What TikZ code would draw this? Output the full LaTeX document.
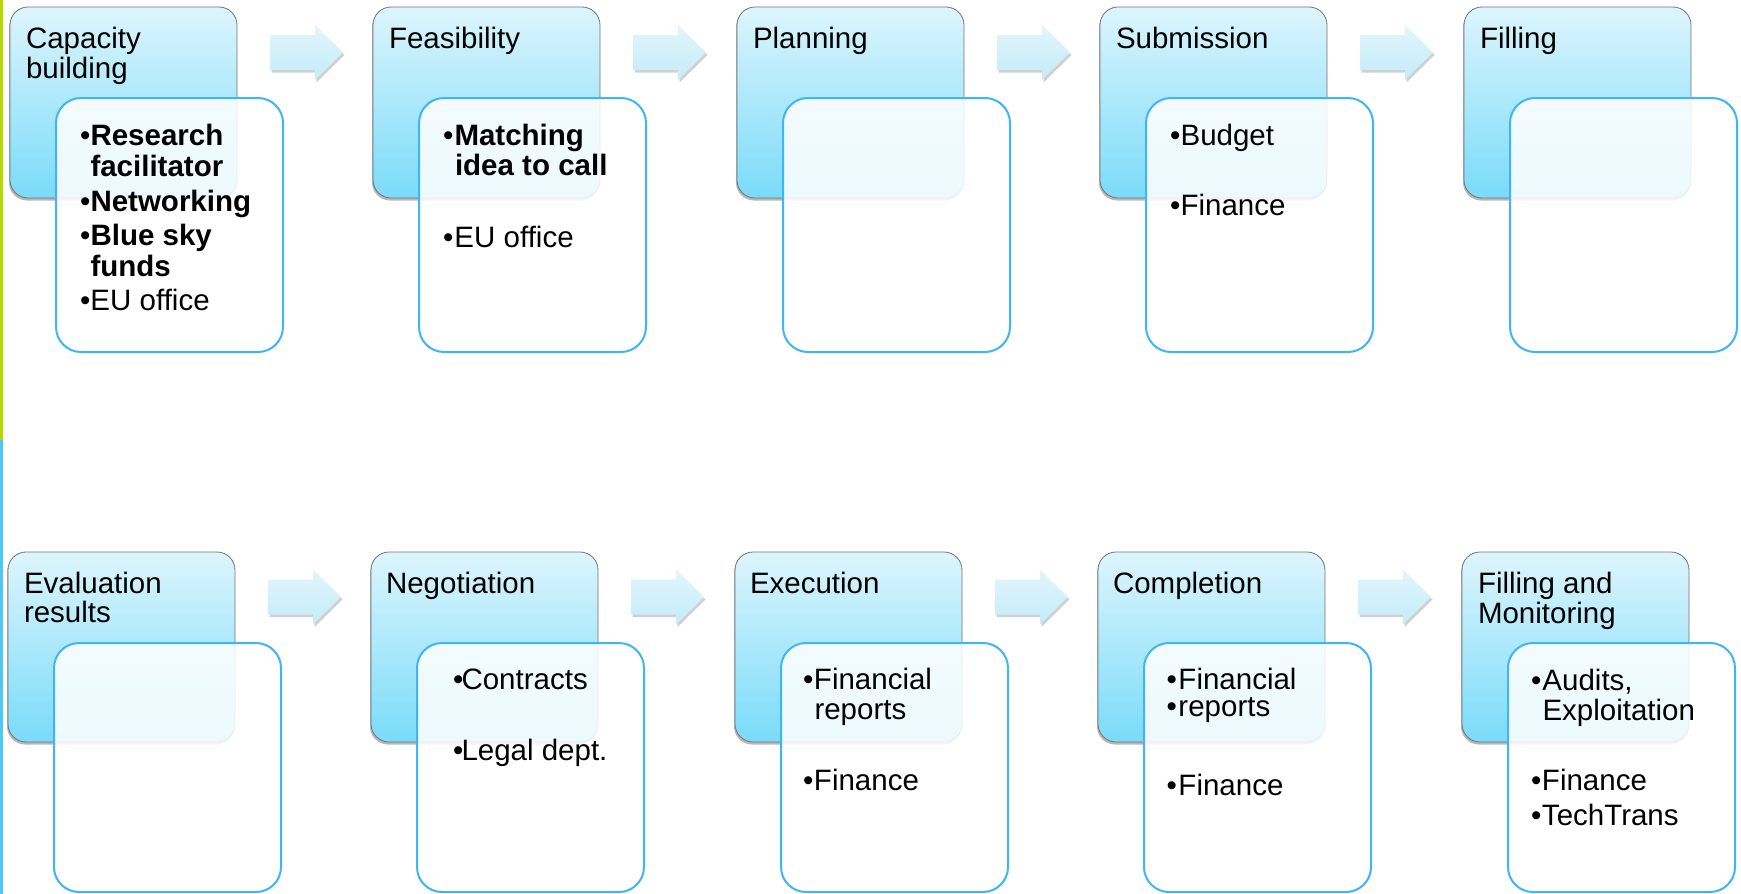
\documentclass[tikz,border=0pt]{standalone}
\usepackage{fontspec}
\setmainfont{Liberation Sans}
\usetikzlibrary{shadows}

\definecolor{boxtop}{HTML}{DDF5FD}
\definecolor{boxbot}{HTML}{7ADBF9}
\definecolor{arrtop}{HTML}{E2F5FC}
\definecolor{arrbot}{HTML}{C4ECF9}
\definecolor{frameblue}{HTML}{3EB6F5}
\definecolor{railgreen}{HTML}{B5D800}
\definecolor{railblue}{HTML}{4DC8F5}

\tikzset{
  stagebox/.style={rectangle, rounded corners=18pt, minimum width=227pt,
    minimum height=191pt, inner sep=0pt, top color=boxtop, bottom color=boxbot,
    draw=black!55, line width=0.8pt,
    drop shadow={shadow xshift=-1pt, shadow yshift=-2.5pt, opacity=.4, fill=black!70}},
  detailbox/.style={rectangle, rounded corners=25pt, minimum width=227pt,
    minimum height=254pt, inner sep=0pt, draw=frameblue, line width=2pt,
    fill=white, fill opacity=.86},
  flowarrow/.style={top color=arrtop, bottom color=arrbot, draw=none,
    drop shadow={shadow xshift=1.5pt, shadow yshift=-2.5pt, opacity=.3, fill=black!60}},
  txt/.style={anchor=base west, inner sep=0pt, outer sep=0pt,
    font=\fontsize{29.5}{31}\selectfont, text=black},
}
% bullet followed by its text, the text starting #1 after the bullet
\newcommand\bitem[2]{\makebox[#1pt][l]{\textbullet}#2}
% block arrow of length 73 with its tail centre at the given coordinate
\newcommand\blockarrow[1]{%
  \path[flowarrow] (#1) ++(0,-17.5) -- ++(45,0) -- ++(0,-10) -- ++(28,27.5)
    -- ++(-28,27.5) -- ++(0,-10) -- ++(-45,0) -- cycle;}

\begin{document}
\begin{tikzpicture}[x=1pt,y=-1pt]
\useasboundingbox (0,0) rectangle (1741,894);
\clip (0,0) rectangle (1741,894);
\fill[white] (0,0) rectangle (1741,894);

% coloured rail on the left edge
\fill[railgreen] (0,0) rectangle (3,440);
\fill[railblue] (0,440) rectangle (3,894);

% ---------- stage boxes ----------
\foreach \n/\x in {1/123.5, 2/486.5, 3/850.5, 4/1213.5, 5/1577.5}
  \node[stagebox] (top\n) at (\x,102.5) {};
\foreach \n/\x in {1/121.5, 2/484.5, 3/848.5, 4/1211.5, 5/1575.5}
  \node[stagebox, minimum height=190pt] (bot\n) at (\x,647) {};

% ---------- block arrows ----------
\coordinate (ta1) at (270,52.5);
\coordinate (ta2) at (633,52.5);
\coordinate (ta3) at (997,52.5);
\coordinate (ta4) at (1360,52.5);
\coordinate (ba1) at (268,597);
\coordinate (ba2) at (631,597);
\coordinate (ba3) at (995,597);
\coordinate (ba4) at (1358,597);
\blockarrow{ta1}\blockarrow{ta2}\blockarrow{ta3}\blockarrow{ta4}
\blockarrow{ba1}\blockarrow{ba2}\blockarrow{ba3}\blockarrow{ba4}

% ---------- stage titles ----------
\node[txt] (t1a) at (26,48) {Capacity};
\node[txt] (t1b) at (26,78) {building};
\node[txt] (t2a) at (389,48) {Feasibility};
\node[txt] (t3a) at (753,48) {Planning};
\node[txt] (t4a) at (1116,48) {Submission};
\node[txt] (t5a) at (1480,48) {Filling};

\node[txt] (b1a) at (24,593) {Evaluation};
\node[txt] (b1b) at (24,622) {results};
\node[txt] (b2a) at (386,593) {Negotiation};
\node[txt] (b3a) at (750,593) {Execution};
\node[txt] (b4a) at (1113,593) {Completion};
\node[txt] (b5a) at (1478,593) {Filling and};
\node[txt] (b5b) at (1478,623) {Monitoring};

% ---------- detail boxes ----------
\foreach \n/\x in {1/169.5, 2/532.5, 3/896.5, 4/1259.5, 5/1623.5}
  \node[detailbox] (topd\n) at (\x,225) {};
\foreach \n/\x in {1/167.5, 2/530.5, 3/894.5, 4/1257.5, 5/1621.5}
  \node[detailbox, minimum height=249pt] (botd\n) at (\x,767.5) {};

% ---------- detail texts, upper row ----------
\node[txt] (d1a) at (80,145) {\bitem{10.5}{\bfseries Research}};
\node[txt] (d1b) at (90.5,176) {\bfseries facilitator};
\node[txt] (d1c) at (80,211) {\bitem{10.5}{\bfseries Networking}};
\node[txt] (d1d) at (80,245) {\bitem{10.5}{\bfseries Blue sky}};
\node[txt] (d1e) at (90.5,276) {\bfseries funds};
\node[txt] (d1f) at (80,310) {\bitem{10.5}{EU office}};

\node[txt] (d2a) at (443,145) {\bitem{11.5}{\bfseries Matching}};
\node[txt] (d2b) at (455,175) {\bfseries idea to call};
\node[txt] (d2c) at (443,247) {\bitem{11.5}{EU office}};

\node[txt] (d4a) at (1170,145) {\bitem{10.6}{Budget}};
\node[txt] (d4b) at (1170,215) {\bitem{10.6}{Finance}};

% ---------- detail texts, lower row ----------
\node[txt] (e2a) at (453,689) {\bitem{8.5}{Contracts}};
\node[txt] (e2b) at (453,760) {\bitem{8.5}{Legal dept.}};

\node[txt] (e3a) at (803,689) {\bitem{11}{Financial}};
\node[txt] (e3b) at (814.5,719) {reports};
\node[txt] (e3c) at (803,790) {\bitem{11}{Finance}};

\node[txt] (e4a) at (1166.5,689) {\bitem{12}{Financial}};
\node[txt] (e4b) at (1166.5,716) {\bitem{12}{reports}};
\node[txt] (e4c) at (1166.5,795) {\bitem{12}{Finance}};

\node[txt] (e5a) at (1531,690) {\bitem{11.5}{Audits,}};
\node[txt] (e5b) at (1542.5,720) {Exploitation};
\node[txt] (e5c) at (1531,790) {\bitem{11}{Finance}};
\node[txt] (e5d) at (1531,825) {\bitem{11}{TechTrans}};
\end{tikzpicture}
\end{document}
